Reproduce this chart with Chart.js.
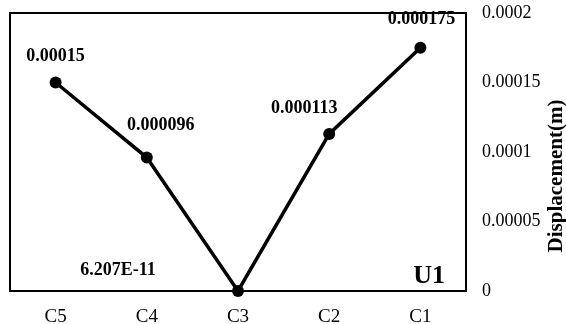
<!DOCTYPE html>
<html>
<head>
<meta charset="utf-8">
<script src="https://cdn.jsdelivr.net/npm/chart.js@4.4.1/dist/chart.umd.min.js"></script>
<style>
  html, body { margin: 0; padding: 0; background: #fff; }
  #wrap { width: 566px; height: 324px; }
</style>
</head>
<body>
<div id="wrap"><canvas id="chart" width="566" height="324"></canvas></div>
<script>
// chart data
const categories = ['C5', 'C4', 'C3', 'C2', 'C1'];
const displacement = [0.00015, 0.000096, 6.207e-11, 0.000113, 0.000175];
const pointLabels = ['0.00015', '0.000096', '6.207E-11', '0.000113', '0.000175'];
const yTickLabels = ['0', '0.00005', '0.0001', '0.00015', '0.0002'];

const FONT = '"Liberation Serif", "Times New Roman", serif';

// label nudges (px) relative to each point, like the hand placed excel labels
const labelShift = [[0, -26], [14, -32], [-120, -21], [-25, -26], [1, -28]];

const extras = {
    id: 'extras',
    afterDatasetsDraw(chart) {
        const ctx = chart.ctx;
        const a = chart.chartArea;
        ctx.save();
        // frame round the plot
        ctx.strokeStyle = '#000';
        ctx.lineWidth = 2;
        ctx.strokeRect(a.left, a.top, a.right - a.left, a.bottom - a.top);

        // value labels
        ctx.fillStyle = '#000';
        ctx.font = 'bold 18px ' + FONT;
        ctx.textAlign = 'center';
        ctx.textBaseline = 'middle';
        chart.getDatasetMeta(0).data.forEach((pt, i) => {
            ctx.fillText(pointLabels[i], pt.x + labelShift[i][0], pt.y + labelShift[i][1]);
        });

        // U1 tag
        ctx.font = 'bold 26px ' + FONT;
        ctx.textAlign = 'right';
        ctx.textBaseline = 'alphabetic';
        ctx.fillText('U1', a.right - 21, a.bottom - 8);

        // y axis title, reading bottom to top
        ctx.font = 'bold 21px ' + FONT;
        ctx.translate(557, 176);
        ctx.rotate(-Math.PI / 2);
        ctx.textAlign = 'center';
        ctx.textBaseline = 'middle';
        ctx.fillText('Displacement(m)', 0, 0);
        ctx.restore();
    }
};

new Chart(document.getElementById('chart'), {
    type: 'line',
    data: {
        labels: categories,
        datasets: [{
            data: displacement,
            borderColor: '#000',
            backgroundColor: '#000',
            borderWidth: 3.5,
            pointRadius: 6,
            pointBackgroundColor: '#000',
            pointBorderWidth: 0,
            tension: 0,
            clip: false
        }]
    },
    options: {
        responsive: false,
        animation: false,
        layout: { padding: { left: 10, top: 13 } },
        plugins: {
            legend: { display: false },
            tooltip: { enabled: false }
        },
        scales: {
            x: {
                offset: true,
                grid: { display: false, drawTicks: false },
                border: { display: false },
                ticks: {
                    color: '#000',
                    padding: 15,
                    font: { family: FONT, size: 19 }
                },
                afterFit(s) { s.height = 33; s.paddingLeft = 0; s.paddingRight = 0; }
            },
            y: {
                position: 'right',
                min: 0,
                max: 0.0002,
                grid: { display: false, drawTicks: false },
                border: { display: false },
                ticks: {
                    stepSize: 0.00005,
                    color: '#000',
                    padding: 16,
                    font: { family: FONT, size: 18 },
                    callback: (v, i) => yTickLabels[i]
                },
                afterFit(s) { s.width = 100; s.paddingTop = 0; s.paddingBottom = 0; }
            }
        }
    },
    plugins: [extras]
});
</script>
</body>
</html>
